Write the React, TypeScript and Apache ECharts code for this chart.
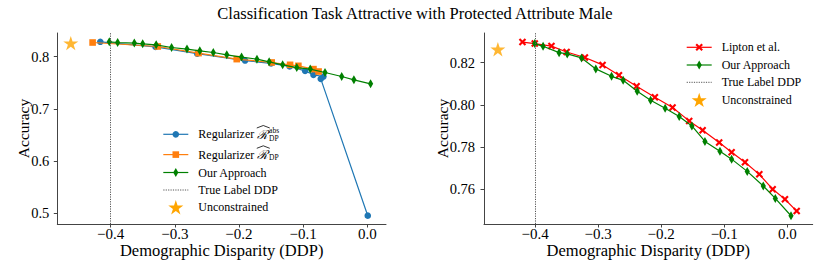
import React, { useEffect, useRef } from "react";
import * as echarts from "echarts";

// ---------------- data ----------------
const TITLE = "Classification Task Attractive with Protected Attribute Male";
const X_NAME = "Demographic Disparity (DDP)";
const Y_NAME = "Accuracy";
const xTicks = [-0.4, -0.3, -0.2, -0.1, 0.0];
const leftYTicks = [0.5, 0.6, 0.7, 0.8];
const rightYTicks = [0.76, 0.78, 0.8, 0.82];
const trueLabelDDP = -0.4;

const regAbsX = [-0.416, -0.33, -0.265, -0.1905, -0.15, -0.121, -0.097, -0.084, -0.0685, -0.0726, 0.0006];
const regAbsY = [0.8282, 0.8185, 0.8055, 0.7923, 0.7868, 0.781, 0.7726, 0.765, 0.7617, 0.7573, 0.4954];

const regX = [-0.428, -0.3265, -0.263, -0.2035, -0.149, -0.1204, -0.1075, -0.084, -0.076];
const regY = [0.8268, 0.8192, 0.8065, 0.795, 0.7886, 0.7841, 0.7822, 0.7759, 0.7713];

const oursLeftX = [-0.402, -0.389, -0.363, -0.35, -0.329, -0.305, -0.281, -0.261, -0.24, -0.219, -0.196, -0.172, -0.153, -0.132, -0.11, -0.089, -0.066, -0.04, -0.021, 0.005];
const oursLeftY = [0.8282, 0.8268, 0.8257, 0.8243, 0.8224, 0.8172, 0.8142, 0.8109, 0.8077, 0.8033, 0.7989, 0.795, 0.7898, 0.7841, 0.7789, 0.7759, 0.7694, 0.7617, 0.7554, 0.7477];

const liptonX = [-0.42, -0.4005, -0.374, -0.35, -0.321, -0.293, -0.267, -0.239, -0.21, -0.182, -0.1556, -0.1343, -0.108, -0.0883, -0.0671, -0.0444, -0.0232, -0.0037, 0.0149];
const liptonY = [0.8297, 0.829, 0.8278, 0.825, 0.8224, 0.8189, 0.814, 0.8088, 0.8036, 0.7987, 0.7924, 0.788, 0.7822, 0.7776, 0.7728, 0.7671, 0.7601, 0.7553, 0.7497];

const oursRightX = [-0.4005, -0.3873, -0.3619, -0.349, -0.3263, -0.3037, -0.2787, -0.2603, -0.238, -0.2168, -0.1937, -0.1714, -0.1513, -0.1306, -0.1068, -0.0883, -0.0635, -0.0381, -0.019, 0.0059];
const oursRightY = [0.829, 0.8277, 0.8247, 0.8241, 0.8222, 0.817, 0.8135, 0.8116, 0.8064, 0.8022, 0.7984, 0.7945, 0.79, 0.7827, 0.778, 0.7743, 0.7685, 0.7616, 0.7557, 0.7475];

const unconstrainedLeft = [-0.462, 0.8257];
const unconstrainedRight = [-0.459, 0.8263];

// ---------------- style ----------------
const SERIF = "Liberation Serif";
const AXIS_COLOR = "#444";
const BLUE = "#1f77b4";
const ORANGE = "#ff7f0e";
const GREEN = "#008000";
const RED = "#ff0000";
const STAR = "#ffa500";

function starPoints(cx: number, cy: number, R: number): number[][] {
  const pts: number[][] = [];
  const r = R * 0.381966;
  for (let i = 0; i < 10; i++) {
    const a = (-90 + i * 36) * (Math.PI / 180);
    const rr = i % 2 === 0 ? R : r;
    pts.push([cx + rr * Math.cos(a), cy + rr * Math.sin(a)]);
  }
  return pts;
}
const starPath =
  "path://" +
  starPoints(0, 0, 10)
    .map((p, i) => (i === 0 ? "M" : "L") + p[0].toFixed(3) + "," + p[1].toFixed(3))
    .join(" ") +
  " Z";
const diamondPath = "path://M0,-10 L6,0 L0,10 L-6,0 Z";
const xPath = "path://M2,0 L5,3 L8,0 L10,2 L7,5 L10,8 L8,10 L5,7 L2,10 L0,8 L3,5 L0,2 Z";

const zip = (xs: number[], ys: number[]) => xs.map((x, i) => [x, ys[i]]);

const fmtX = (v: number) => (v < -1e-9 ? "\u2212" : "") + Math.abs(v).toFixed(1);

function measure(text: string, font: string): number {
  const c = document.createElement("canvas").getContext("2d");
  if (!c) return text.length * 6;
  c.font = font;
  return c.measureText(text).width;
}

function makeX(gridIndex: number, min: number, max: number) {
  return {
    type: "value",
    gridIndex,
    min,
    max,
    axisLine: { show: true, onZero: false, lineStyle: { color: AXIS_COLOR, width: 1 } },
    axisTick: { show: true, length: 3.5, customValues: xTicks, lineStyle: { color: AXIS_COLOR, width: 1 } },
    axisLabel: { customValues: xTicks, formatter: fmtX, fontFamily: SERIF, fontSize: 15, color: "#000", margin: 2.5 },
    splitLine: { show: false },
    name: X_NAME,
    nameLocation: "middle",
    nameGap: 18,
    nameMoveOverlap: false,
    nameTextStyle: { fontFamily: SERIF, fontSize: 16.5, color: "#000" },
  };
}

function makeY(gridIndex: number, min: number, max: number, ticks: number[], digits: number, labelMargin: number, nameGap: number) {
  return {
    type: "value",
    gridIndex,
    min,
    max,
    axisLine: { show: true, onZero: false, lineStyle: { color: AXIS_COLOR, width: 1 } },
    axisTick: { show: true, length: 3.5, customValues: ticks, lineStyle: { color: AXIS_COLOR, width: 1 } },
    axisLabel: {
      customValues: ticks,
      formatter: (v: number) => v.toFixed(digits),
      fontFamily: SERIF,
      fontSize: 14.5,
      color: "#000",
      margin: labelMargin,
    },
    splitLine: { show: false },
    name: Y_NAME,
    nameLocation: "middle",
    nameGap,
    nameMoveOverlap: false,
    nameTextStyle: { fontFamily: SERIF, fontSize: 15.5, color: "#000" },
  };
}

function lineSeries(name: string, data: number[][], color: string, symbol: string, symbolSize: any, idx: number, z: number, extra: any = {}) {
  return {
    type: "line",
    name,
    xAxisIndex: idx,
    yAxisIndex: idx,
    data,
    symbol,
    symbolSize,
    showAllSymbol: true,
    clip: false,
    z,
    lineStyle: { color, width: 1.2 },
    itemStyle: { color },
    emphasis: { disabled: true },
    ...extra,
  };
}

const markLine = {
  silent: true,
  symbol: ["none", "none"],
  label: { show: false },
  lineStyle: { color: "#555", width: 1, type: [1.2, 1.2] },
  data: [{ xAxis: trueLabelDDP }],
};

function textEl(x: number, y: number, text: string, size: number, family: string = SERIF, italic = false) {
  return {
    type: "text",
    x,
    y,
    silent: true,
    style: {
      text,
      fontSize: size,
      fontFamily: family,
      fontStyle: italic ? "italic" : "normal",
      fill: "#000",
      align: "left",
      verticalAlign: "middle",
    },
  };
}

function buildLegend(x0: number, x1: number, tx: number, items: { kind: string; color: string; label: string }[], rows: number[]) {
  const els: any[] = [];
  const mid = (x0 + x1) / 2;
  items.forEach((it, i) => {
    const y = rows[i];
    if (it.kind !== "star") {
      els.push({
        type: "line",
        silent: true,
        shape: { x1: x0, y1: y, x2: x1, y2: y },
        style: it.kind === "dotted" ? { stroke: "#555", lineWidth: 1, lineDash: [1.2, 1.2] } : { stroke: it.color, lineWidth: 1.2 },
      });
    }
    if (it.kind === "circle") els.push({ type: "circle", silent: true, shape: { cx: mid, cy: y, r: 3.3 }, style: { fill: it.color } });
    if (it.kind === "rect") els.push({ type: "rect", silent: true, shape: { x: mid - 3.3, y: y - 3.3, width: 6.6, height: 6.6 }, style: { fill: it.color } });
    if (it.kind === "diamond")
      els.push({ type: "polygon", silent: true, shape: { points: [[mid, y - 4.5], [mid + 2.6, y], [mid, y + 4.5], [mid - 2.6, y]] }, style: { fill: it.color } });
    if (it.kind === "x") {
      const s = 0.75;
      const pts = [[2, 0], [5, 3], [8, 0], [10, 2], [7, 5], [10, 8], [8, 10], [5, 7], [2, 10], [0, 8], [3, 5], [0, 2]].map((p) => [mid + (p[0] - 5) * s, y + (p[1] - 5) * s]);
      els.push({ type: "polygon", silent: true, shape: { points: pts }, style: { fill: it.color } });
    }
    if (it.kind === "star") els.push({ type: "polygon", silent: true, shape: { points: starPoints(mid, y + 0.7, 7.9) }, style: { fill: it.color } });

    if (it.label.startsWith("MATH")) {
      const sup = it.label === "MATHABS";
      const base = "Regularizer";
      els.push(textEl(tx, y, base, 12));
      const rx = tx + measure(base + " ", "12px 'Liberation Serif'");
      els.push(textEl(rx, y + 0.3, "\u211B", 12.5, "DejaVu Serif", true));
      const rw = measure("\u211B", "italic 12.5px 'DejaVu Serif'");
      els.push({
        type: "polyline",
        silent: true,
        shape: { points: [[rx - 0.5, y - 6.3], [rx + rw / 2 + 0.5, y - 8.8], [rx + rw + 1.5, y - 6.3]] },
        style: { stroke: "#000", lineWidth: 0.8, fill: "none" },
      });
      els.push(textEl(rx + rw + 0.8, y + (sup ? 4 : 2.5), "DP", 7.5));
      if (sup) els.push(textEl(rx + rw + 0.8, y - 3.8, "abs", 7.5));
    } else {
      els.push(textEl(tx, y, it.label, 12));
    }
  });
  return els;
}

export default function App() {
  const ref = useRef<HTMLDivElement>(null);
  useEffect(() => {
    if (!ref.current) return;
    const chart = echarts.init(ref.current, null, { renderer: "svg" });

    const leftLegend = buildLegend(
      163.3,
      188.3,
      198.3,
      [
        { kind: "circle", color: BLUE, label: "MATHABS" },
        { kind: "rect", color: ORANGE, label: "MATH" },
        { kind: "diamond", color: GREEN, label: "Our Approach" },
        { kind: "dotted", color: "#555", label: "True Label DDP" },
        { kind: "star", color: STAR, label: "Unconstrained" },
      ],
      [134.3, 154.6, 172.5, 190, 207.3]
    );
    const rightLegend = buildLegend(
      686.7,
      711.7,
      721.7,
      [
        { kind: "x", color: RED, label: "Lipton et al." },
        { kind: "diamond", color: GREEN, label: "Our Approach" },
        { kind: "dotted", color: "#555", label: "True Label DDP" },
        { kind: "star", color: STAR, label: "Unconstrained" },
      ],
      [47.3, 65, 82.3, 100]
    );

    const option: any = {
      animation: false,
      backgroundColor: "#fff",
      textStyle: { fontFamily: SERIF },
      title: {
        text: TITLE,
        left: "center",
        top: 0,
        textStyle: { fontFamily: SERIF, fontSize: 16.5, fontWeight: "normal", color: "#000" },
      },
      grid: [
        { left: 57.3, top: 33, width: 328.7, height: 191 },
        { left: 484, top: 33, width: 328.7, height: 191 },
      ],
      xAxis: [makeX(0, -0.483, 0.029), makeX(1, -0.481, 0.0403)],
      yAxis: [makeY(0, 0.4795, 0.845, leftYTicks, 1, 8, 26), makeY(1, 0.7436, 0.834, rightYTicks, 2, 9, 33.5)],
      series: [
        lineSeries("Regularizer abs", zip(regAbsX, regAbsY), BLUE, "circle", 6.6, 0, 2, { markLine }),
        lineSeries("Regularizer", zip(regX, regY), ORANGE, "rect", 6.6, 0, 3),
        lineSeries("Our Approach", zip(oursLeftX, oursLeftY), GREEN, diamondPath, [5.2, 9], 0, 4),
        {
          type: "scatter",
          name: "Unconstrained",
          xAxisIndex: 0,
          yAxisIndex: 0,
          data: [unconstrainedLeft],
          symbol: starPath,
          symbolSize: [15, 14.3],
          itemStyle: { color: STAR },
          z: 5,
          clip: false,
        },
        lineSeries("Lipton et al.", zip(liptonX, liptonY), RED, xPath, 7.5, 1, 2, { markLine }),
        lineSeries("Our Approach R", zip(oursRightX, oursRightY), GREEN, diamondPath, [5.2, 9], 1, 4),
        {
          type: "scatter",
          name: "Unconstrained R",
          xAxisIndex: 1,
          yAxisIndex: 1,
          data: [unconstrainedRight],
          symbol: starPath,
          symbolSize: [15, 14.3],
          itemStyle: { color: STAR },
          z: 5,
          clip: false,
        },
      ],
      graphic: [...leftLegend, ...rightLegend],
    };
    chart.setOption(option);
    return () => chart.dispose();
  }, []);
  return <div ref={ref} style={{ position: "fixed", left: 0, top: 0, width: 830, height: 277 }} />;
}
